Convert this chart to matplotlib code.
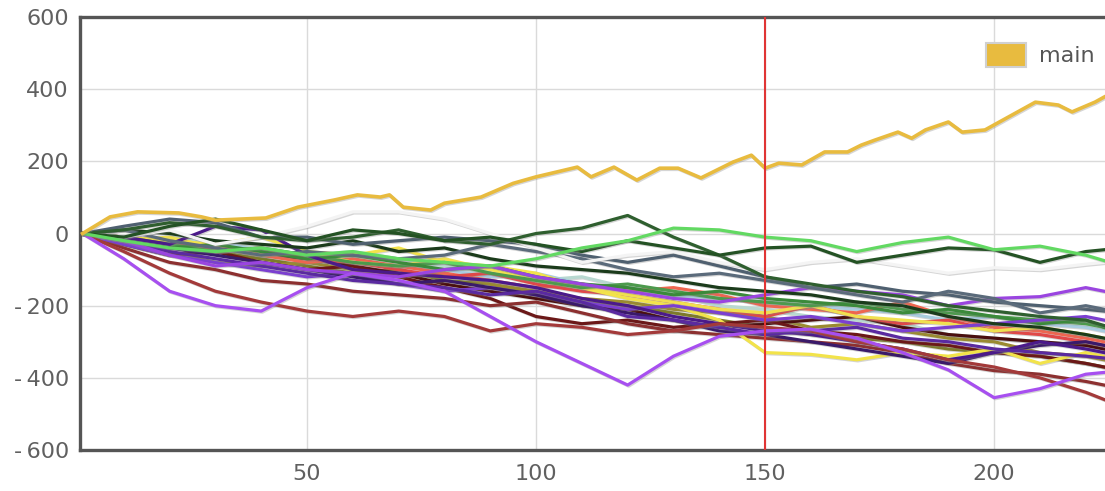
import matplotlib
matplotlib.use("Agg")
import matplotlib.pyplot as plt
import matplotlib.patheffects as pe
from matplotlib.patches import Patch

# main series
main_x = [1, 7, 13, 22, 27, 30, 41, 48, 56, 61, 66, 68, 71, 77, 80, 88, 95, 100, 109, 112,
          117, 122, 127, 131, 136, 143, 147, 150, 153, 158, 163, 168, 171, 174, 179, 182, 185,
          190, 193, 198, 209, 214, 217, 222, 224]
main_y = [0, 46, 60, 57, 46, 37, 43, 73, 93, 107, 101, 107, 73, 65, 84, 101, 139, 157, 184, 157,
          184, 148, 181, 181, 154, 198, 217, 181, 195, 190, 226, 226, 245, 259, 281, 264, 287,
          309, 281, 287, 364, 356, 337, 364, 378]

# the other walks, sampled every 10 steps
walk_x = [1, 10, 20, 30, 40, 50, 60, 70, 80, 90, 100, 110, 120, 130, 140, 150, 160, 170, 180,
          190, 200, 210, 220, 224]

walks = {
    "#b8d8d0": [0, -20, -10, -30, -40, -60, -50, -70, -90, -110, -130, -120, -150, -170, -200, -210, -230, -240, -250, -280, -290, -300, -310, -320],
    "#a8cce0": [0, -10, -30, -20, -50, -60, -80, -90, -100, -120, -110, -140, -150, -170, -180, -190, -200, -210, -220, -240, -230, -250, -260, -270],
    "#7d7a2a": [0, -30, -60, -50, -70, -90, -110, -100, -130, -140, -170, -190, -200, -220, -240, -260, -280, -290, -300, -320, -330, -340, -360, -370],
    "#9a8a30": [0, -20, -50, -80, -90, -80, -100, -120, -110, -140, -160, -180, -190, -210, -220, -230, -260, -250, -270, -290, -300, -330, -340, -350],
    "#4a0f0f": [0, -10, -20, -40, -60, -70, -90, -110, -140, -160, -180, -200, -210, -240, -260, -250, -240, -230, -260, -280, -290, -300, -310, -320],
    "#6b1818": [0, -30, -60, -50, -80, -100, -90, -120, -150, -180, -230, -250, -240, -260, -250, -240, -270, -280, -300, -310, -330, -340, -360, -370],
    "#8c3030": [0, -40, -80, -100, -130, -140, -160, -170, -180, -200, -190, -220, -250, -270, -280, -290, -300, -310, -330, -360, -380, -390, -410, -420],
    "#ee6650": [0, -20, -40, -30, -60, -80, -70, -90, -110, -130, -150, -140, -160, -150, -170, -200, -210, -220, -190, -230, -260, -270, -290, -300],
    "#e04848": [0, -10, -20, -50, -40, -70, -80, -100, -120, -110, -140, -160, -170, -190, -210, -230, -200, -230, -250, -240, -270, -280, -300, -310],
    "#f0e050": [0, -20, -10, -40, -60, -50, -80, -90, -70, -100, -130, -150, -170, -190, -210, -220, -200, -230, -240, -250, -270, -260, -280, -290],
    "#f2e34a": [0, -10, -20, -30, -10, -50, -60, -40, -80, -90, -110, -150, -180, -200, -240, -330, -335, -350, -330, -340, -320, -360, -330, -340],
    "#4d9a4d": [0, -10, -30, -50, -40, -60, -80, -90, -80, -110, -130, -150, -140, -160, -180, -190, -200, -190, -210, -220, -230, -240, -250, -260],
    "#3b8a3b": [0, -20, -40, -30, -50, -70, -60, -80, -100, -90, -120, -140, -150, -170, -160, -180, -190, -200, -220, -210, -230, -250, -240, -260],
    "#7b3fd0": [0, -30, -60, -80, -100, -120, -110, -140, -160, -150, -170, -190, -210, -200, -220, -240, -230, -250, -270, -260, -250, -240, -230, -240],
    "#3a1a6a": [0, -20, -40, -60, -80, -100, -120, -140, -130, -150, -170, -200, -220, -240, -270, -280, -300, -320, -340, -360, -330, -310, -300, -310],
    "#4b1a8a": [0, -10, -30, 20, 10, -60, -100, -110, -120, -130, -150, -180, -200, -230, -250, -270, -280, -300, -320, -350, -330, -300, -320, -330],
    "#5a2aa0": [0, -20, -50, -70, -90, -110, -130, -140, -150, -170, -160, -190, -230, -240, -260, -280, -270, -260, -290, -300, -320, -330, -340, -345],
    "#9a45e0": [0, -20, -60, -90, -80, -100, -110, -120, -100, -90, -120, -140, -160, -180, -190, -170, -150, -160, -170, -200, -180, -175, -150, -160],
    "#1b3b1b": [0, 10, 0, -20, -30, -40, -20, -50, -40, -70, -90, -100, -110, -130, -150, -160, -170, -190, -200, -230, -250, -260, -280, -290],
    "#4f6070": [0, 20, 40, 30, -10, -10, -30, -20, -10, -20, -30, -60, -80, -60, -90, -120, -150, -140, -160, -170, -190, -200, -210, -215],
    "#5b6b7b": [0, 10, -20, -40, -60, -50, -60, -70, -60, -30, -50, -70, -100, -120, -110, -130, -150, -170, -190, -160, -180, -220, -200, -210],
    "#f4f4f4": [0, -10, 10, -30, -10, 20, 60, 60, 40, 0, -40, -80, -60, -50, -80, -100, -80, -70, -90, -110, -95, -100, -85, -80],
    "#a33a3a": [0, -50, -110, -160, -190, -215, -230, -215, -230, -270, -250, -260, -280, -270, -250, -260, -270, -300, -320, -350, -370, -400, -440, -460],
    "#a74ff0": [0, -70, -160, -200, -215, -150, -110, -130, -160, -230, -300, -360, -420, -340, -285, -270, -265, -290, -330, -378, -455, -430, -390, -385],
    "#2f5f2f": [0, 10, 30, 20, -10, -20, -10, 10, -20, -30, 0, 15, 50, -10, -60, -120, -140, -160, -175, -200, -215, -230, -240, -255],
    "#245224": [0, -10, 20, 40, 10, -20, 10, 0, -20, -10, -30, -50, -20, -40, -60, -40, -35, -80, -60, -40, -45, -80, -50, -45],
    "#62d962": [0, -20, -40, -50, -40, -60, -50, -70, -80, -90, -70, -40, -20, 15, 10, -10, -20, -50, -25, -10, -45, -35, -60, -75],
}

gold = "#e8bb3f"
shadow = [pe.SimpleLineShadow(offset=(0.8, -0.8), shadow_color="#888888", alpha=0.35), pe.Normal()]

fig = plt.figure(figsize=(11.05, 4.91), dpi=100)
ax = fig.add_axes([80 / 1105, 41 / 491, 1 - 80 / 1105, 433 / 491])

for c, ys in walks.items():
    ax.plot(walk_x, ys, color=c, lw=2.3, path_effects=shadow, zorder=2)
ax.plot(main_x, main_y, color=gold, lw=2.6, path_effects=shadow, zorder=3)
ax.axvline(150, color="#e03535", lw=1.5, zorder=4)

ax.set_xlim(0.44, 224.2)
ax.set_ylim(-600, 600)
ax.set_xticks([50, 100, 150, 200])
ax.set_yticks([600, 400, 200, 0, -200, -400, -600])
ax.set_yticklabels(["600", "400", "200", "0", "-\u2009200", "-\u2009400", "-\u2009600"])
ax.grid(True, color="#dadada", lw=1)
ax.set_axisbelow(True)
ax.tick_params(length=0, labelsize=16, labelcolor="#606060")
ax.tick_params(axis="y", pad=8)
ax.tick_params(axis="x", pad=10)
for s in ["left", "bottom", "top"]:
    ax.spines[s].set_color("#555555")
    ax.spines[s].set_linewidth(2.4)
ax.spines["right"].set_visible(False)

h = Patch(facecolor=gold, edgecolor="#d0d0d0", lw=1.5)
fig.legend([h], ["main"], loc="center left", bbox_to_anchor=(975 / 1105, 1 - 55 / 491),
           frameon=False, fontsize=16, labelcolor="#555555", handlelength=1.8,
           handleheight=1.25, handletextpad=0.6, borderpad=0)

fig.savefig("out.png", dpi=100)
